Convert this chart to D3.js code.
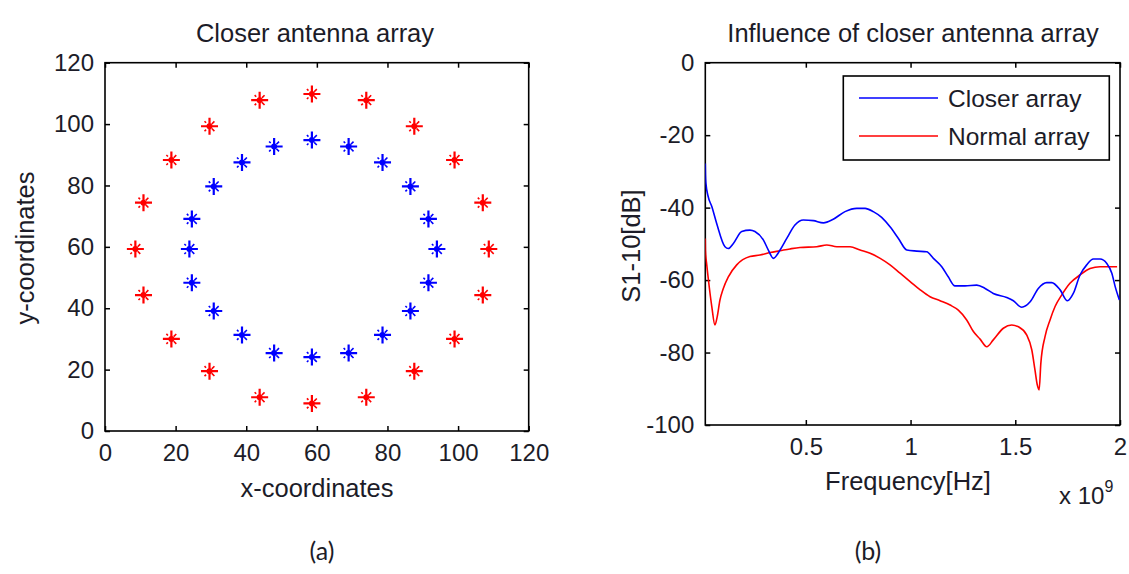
<!DOCTYPE html>
<html>
<head>
<meta charset="utf-8">
<script src="https://cdn.jsdelivr.net/npm/d3@7"></script>
<style>
  html, body { margin: 0; padding: 0; background: #fff; }
  svg text { font-family: "Liberation Sans", Arial, sans-serif; fill: #1c1c28; }
  .cap { font-family: Lato, "Open Sans", sans-serif; }
</style>
</head>
<body>
<svg id="fig" width="1129" height="574"></svg>
<script>
// ---- (a) antenna positions ----
const outerX = [58.6, 74.0, 87.6, 99.0, 107.0, 108.7, 107.0, 99.0, 87.6, 74.0, 58.6, 43.8, 29.6, 18.8, 10.9, 8.6, 10.9, 18.8, 29.6, 43.8];
const outerY = [109.8, 107.8, 99.3, 88.3, 74.4, 59.3, 44.3, 30.0, 19.5, 11.0, 9.0, 11.0, 19.5, 30.0, 44.3, 59.3, 74.4, 88.3, 99.3, 107.8];
const innerX = [58.6, 69.0, 78.6, 86.5, 91.6, 94.0, 91.6, 86.5, 78.6, 69.0, 58.6, 47.9, 38.8, 30.8, 24.6, 23.9, 24.6, 30.8, 38.8, 47.9];
const innerY = [94.8, 92.7, 87.5, 79.7, 69.1, 59.3, 48.3, 39.1, 31.3, 25.4, 24.1, 25.4, 31.3, 39.1, 48.3, 59.3, 69.1, 79.7, 87.5, 92.7];
const posTicks = [0, 20, 40, 60, 80, 100, 120];

// ---- (b) coupling S1-10 versus frequency (x 10^9 Hz) ----
const freqCloser = [0.020, 0.021, 0.023, 0.034, 0.051, 0.074, 0.114, 0.130, 0.154, 0.194,
  0.233, 0.257, 0.297, 0.321, 0.345, 0.377, 0.409, 0.448, 0.488, 0.536,
  0.584, 0.631, 0.687, 0.743, 0.783, 0.822, 0.862, 0.902, 0.942, 0.982,
  1.030, 1.077, 1.109, 1.149, 1.180, 1.212, 1.260, 1.316, 1.356, 1.395,
  1.459, 1.491, 1.531, 1.571, 1.610, 1.650, 1.674, 1.714, 1.749, 1.777,
  1.809, 1.841, 1.873, 1.905, 1.937, 1.961, 1.977, 1.997];
const sCloser = [-27.8, -31.0, -33.3, -37.0, -39.7, -44.3, -50.8, -51.3, -49.9, -46.6,
  -46.2, -46.6, -48.9, -51.7, -54.0, -51.7, -48.5, -44.8, -43.4, -43.6,
  -44.2, -43.2, -41.1, -40.2, -40.2, -41.1, -42.7, -45.3, -48.5, -51.7,
  -52.0, -52.2, -54.0, -56.3, -59.1, -61.6, -61.6, -61.4, -62.3, -63.7,
  -64.8, -65.7, -67.5, -66.0, -62.3, -60.7, -60.7, -62.7, -65.7, -63.7,
  -58.6, -55.8, -54.2, -54.2, -55.4, -58.1, -61.8, -65.5];
const freqNormal = [0.020, 0.021, 0.027, 0.034, 0.051, 0.066, 0.077, 0.090, 0.106, 0.130,
  0.170, 0.233, 0.281, 0.329, 0.377, 0.424, 0.472, 0.552, 0.600, 0.648,
  0.711, 0.759, 0.807, 0.855, 0.902, 0.950, 0.998, 1.046, 1.093, 1.141,
  1.189, 1.228, 1.268, 1.300, 1.332, 1.364, 1.395, 1.443, 1.483, 1.515,
  1.555, 1.579, 1.594, 1.605, 1.614, 1.622, 1.642, 1.666, 1.690, 1.722,
  1.761, 1.809, 1.857, 1.905, 1.986];
const sNormal = [-48.5, -52.0, -55.8, -59.5, -67.3, -72.4, -70.1, -65.5, -62.3, -59.1,
  -55.8, -53.5, -53.1, -52.4, -51.9, -51.4, -51.0, -50.8, -50.3, -50.8,
  -50.8, -51.7, -52.6, -54.0, -55.8, -58.1, -60.4, -62.7, -64.6, -65.7,
  -66.9, -68.3, -71.0, -74.2, -76.3, -78.4, -76.5, -73.3, -72.4, -72.9,
  -75.2, -79.3, -84.8, -88.9, -90.3, -83.0, -75.6, -71.0, -67.3, -64.1,
  -60.9, -58.6, -56.8, -56.3, -56.3];
const freqTicks = [0.5, 1, 1.5, 2];
const dbTicks = [0, -20, -40, -60, -80, -100];
const seriesNames = ["Closer array", "Normal array"];
const seriesColors = ["#0000ff", "#ff0000"];

const svg = d3.select("#fig");
svg.append("rect").attr("width", 1129).attr("height", 574).attr("fill", "#fff");

const TICK_FS = 24, LABEL_FS = 25.5, TITLE_FS = 25.5;
// plain ASCII hyphen for negative numbers
const plain = d => String(d);

// Boxed axes with inward ticks on all four sides
function boxedAxes(g, x, y, xt, yt) {
  const [x0, x1] = x.range(), [y0, y1] = y.range();
  const tl = 5;
  const ax = (gen, tx, ty) => {
    const a = g.append("g").attr("transform", `translate(${tx},${ty})`).call(gen);
    a.select(".domain").remove();
    a.selectAll("line").attr("stroke", "#000").attr("stroke-width", 1.5);
    a.selectAll("text").attr("font-size", TICK_FS).attr("fill", "#1c1c28")
      .attr("font-family", "'Liberation Sans', Arial, sans-serif");
    return a;
  };
  ax(d3.axisBottom(x).tickValues(xt).tickFormat(plain).tickSizeInner(-tl).tickSizeOuter(0).tickPadding(13), 0, y0);
  ax(d3.axisTop(x).tickValues(xt).tickFormat("").tickSizeInner(-tl).tickSizeOuter(0), 0, y1);
  ax(d3.axisLeft(y).tickValues(yt).tickFormat(plain).tickSizeInner(-tl).tickSizeOuter(0).tickPadding(11), x0, 0);
  ax(d3.axisRight(y).tickValues(yt).tickFormat("").tickSizeInner(-tl).tickSizeOuter(0), x1, 0);
  g.append("rect").attr("x", x0).attr("y", y1).attr("width", x1 - x0).attr("height", y0 - y1)
    .attr("fill", "none").attr("stroke", "#000").attr("stroke-width", 1.6);
}

// ---------------- (a) ----------------
const xL = d3.scaleLinear([0, 120], [105, 528.7]);
const yL = d3.scaleLinear([0, 120], [431, 62.7]);
const gA = svg.append("g");
boxedAxes(gA, xL, yL, posTicks, posTicks);

// asterisk marker: plus with short diagonal strokes and a dense centre
function asterisk(sel, color) {
  sel.append("path")
    .attr("d", "M-8.5,0H8.5M0,-8.5V8.5")
    .attr("stroke", color).attr("stroke-width", 2.2).attr("fill", "none");
  sel.append("path")
    .attr("d", "M-5,-5L5,5M-5,5L5,-5")
    .attr("stroke", color).attr("stroke-width", 1.6).attr("fill", "none")
    .attr("stroke-dasharray", "2.2 3.7 2.2");
  sel.append("circle").attr("r", 3).attr("fill", color);
}
const rings = [
  {xs: outerX, ys: outerY, color: "#ff0000"},
  {xs: innerX, ys: innerY, color: "#0000ff"}
];
rings.forEach(r => {
  const pts = r.xs.map((v, i) => [v, r.ys[i]]);
  gA.append("g").selectAll("g").data(pts).join("g")
    .attr("transform", d => `translate(${xL(d[0])},${yL(d[1])})`)
    .each(function () { asterisk(d3.select(this), r.color); });
});

gA.append("text").attr("x", 315).attr("y", 41.5).attr("text-anchor", "middle")
  .attr("font-size", TITLE_FS).text("Closer antenna array");
gA.append("text").attr("x", 317).attr("y", 497).attr("text-anchor", "middle")
  .attr("font-size", LABEL_FS).text("x-coordinates");
gA.append("text").attr("transform", "translate(34,248) rotate(-90)").attr("text-anchor", "middle")
  .attr("font-size", LABEL_FS).text("y-coordinates");

// ---------------- (b) ----------------
const xR = d3.scaleLinear([0.02, 2], [705.3, 1120]);
const yR = d3.scaleLinear([-100, 0], [425, 62.7]);
const gB = svg.append("g");
boxedAxes(gB, xR, yR, freqTicks, dbTicks);

svg.append("clipPath").attr("id", "plotB").append("rect")
  .attr("x", 705.3).attr("y", 62.7).attr("width", 1120 - 705.3).attr("height", 425 - 62.7);

const line = d3.line().x(d => xR(d[0])).y(d => yR(d[1])).curve(d3.curveMonotoneX);
const series = [
  freqCloser.map((f, i) => [f, sCloser[i]]),
  freqNormal.map((f, i) => [f, sNormal[i]])
];
// draw Normal first so Closer sits on top where they cross
[1, 0].forEach(k => {
  gB.append("path").datum(series[k]).attr("d", line)
    .attr("clip-path", "url(#plotB)")
    .attr("fill", "none").attr("stroke", seriesColors[k]).attr("stroke-width", 1.6)
    .attr("stroke-linejoin", "round");
});

// legend
const lg = gB.append("g");
lg.append("rect").attr("x", 843.3).attr("y", 76).attr("width", 266).attr("height", 84)
  .attr("fill", "#fff").attr("stroke", "#000").attr("stroke-width", 1.6);
seriesNames.forEach((name, i) => {
  const ly = 98 + i * 38;
  lg.append("line").attr("x1", 859).attr("x2", 938).attr("y1", ly).attr("y2", ly)
    .attr("stroke", seriesColors[i]).attr("stroke-width", 1.6);
  lg.append("text").attr("x", 948).attr("y", ly).attr("dy", "0.35em")
    .attr("font-size", 24.5).text(name);
});

gB.append("text").attr("x", 913).attr("y", 41.5).attr("text-anchor", "middle")
  .attr("font-size", TITLE_FS).text("Influence of closer antenna array");
gB.append("text").attr("x", 908).attr("y", 490).attr("text-anchor", "middle")
  .attr("font-size", LABEL_FS).text("Frequency[Hz]");
gB.append("text").attr("transform", "translate(640,246) rotate(-90)").attr("text-anchor", "middle")
  .attr("font-size", LABEL_FS).text("S1-10[dB]");
const ex = gB.append("text").attr("x", 1059).attr("y", 504).attr("font-size", 24);
ex.append("tspan").text("x 10");
ex.append("tspan").attr("font-size", 16).attr("dy", -12).text("9");

// panel captions
svg.append("text").attr("class", "cap").attr("x", 322).attr("y", 560).attr("text-anchor", "middle")
  .attr("font-size", 25).attr("fill", "#000").text("(a)");
svg.append("text").attr("class", "cap").attr("x", 868).attr("y", 560).attr("text-anchor", "middle")
  .attr("font-size", 25).attr("fill", "#000").text("(b)");
</script>
</body>
</html>
